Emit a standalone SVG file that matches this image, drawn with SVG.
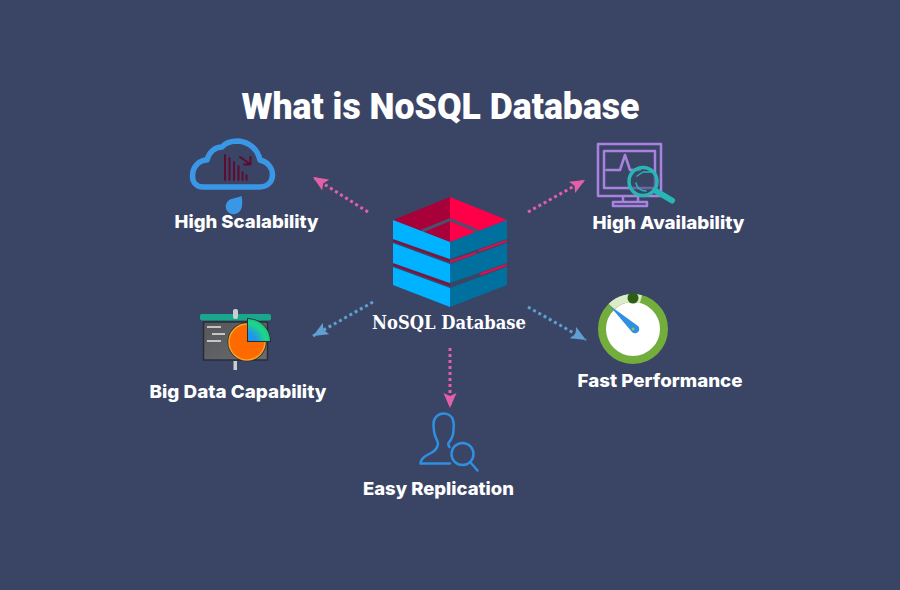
<svg xmlns="http://www.w3.org/2000/svg" width="900" height="590" viewBox="0 0 900 590">
<style>
.lbl{font-family:"Inter","Liberation Sans",sans-serif;font-weight:800;font-size:18px;fill:#fff;text-anchor:middle}
.pk{stroke:#e45fa8;stroke-width:3;stroke-dasharray:3 3;fill:none}
.bl{stroke:#5f9fd2;stroke-width:3;stroke-dasharray:3 3;fill:none}
.ol{fill:none;stroke-linecap:round;stroke-linejoin:round}
</style>
<defs>
<marker id="ap" markerUnits="userSpaceOnUse" markerWidth="16" markerHeight="14" refX="15" refY="7" orient="auto"><path d="M0 0.500L15 7L0 13.500L3 7Z" fill="#e45fa8"/></marker>
<marker id="ab" markerUnits="userSpaceOnUse" markerWidth="16" markerHeight="14" refX="15" refY="7" orient="auto"><path d="M0 0.500L15 7L0 13.500L3 7Z" fill="#5f9fd2"/></marker>
<radialGradient id="wedge" gradientUnits="userSpaceOnUse" cx="247" cy="342" r="24"><stop offset="0.350" stop-color="#1e95ee"/><stop offset="0.800" stop-color="#1fd68a"/><stop offset="1" stop-color="#14c878"/></radialGradient>
<linearGradient id="board" x1="0" y1="0" x2="1" y2="1"><stop offset="0" stop-color="#55565a"/><stop offset="1" stop-color="#6a6b6e"/></linearGradient>
</defs>
<rect width="900" height="590" fill="#3a4566"/>
<text id="title" x="440.500" y="119" font-family="Roboto,sans-serif" font-weight="900" font-size="37" fill="#fff" text-anchor="middle" textLength="398" lengthAdjust="spacingAndGlyphs">What is NoSQL Database</text>

<g id="connectors">
<path class="pk" d="M368 212L313 177" marker-end="url(#ap)"/>
<path class="pk" d="M528 212L585 180" marker-end="url(#ap)"/>
<path class="bl" d="M373 302L313 336" marker-end="url(#ab)"/>
<path class="bl" d="M528 307L586 340" marker-end="url(#ab)"/>
<path class="pk" d="M450 348V408" marker-end="url(#ap)"/>
</g>

<g id="center">
<path d="M393 220L450 197V242Z" fill="#a80038"/>
<path d="M507 220L450 197V242Z" fill="#ff0048"/>
<path d="M424 231L450 221V242Z" fill="#a80038"/>
<path d="M477 231L450 221V242Z" fill="#ff0048"/>
<path d="M422 231L450 219.500L478 231" fill="none" stroke="#4a5070" stroke-width="3"/>
<path d="M393 239.500L450 260V262L393 241.500Z" fill="#8c0a3c"/>
<path d="M450 260.500L476 252L477 254L450 263Z" fill="#d8104f"/>
<path d="M478 250L506 240L507 242L479 252Z" fill="#d8104f"/>
<path d="M393 263.500L450 284V286L393 265.500Z" fill="#8c0a3c"/>
<path d="M480 273L506 264L507 266L481 275.500Z" fill="#d8104f"/>
<path d="M393 220L450 242V259L393 239Z" fill="#00b2ff"/>
<path d="M507 220L450 242V259L507 239Z" fill="#00709f"/>
<path d="M393 243L450 264V283L393 263Z" fill="#00b2ff"/>
<path d="M507 243L450 264V283L507 263Z" fill="#00709f"/>
<path d="M393 267L450 288V307L393 285Z" fill="#00b2ff"/>
<path d="M507 267L450 288V307L507 285Z" fill="#00709f"/>
<text x="449" y="329" font-family="'DejaVu Serif',serif" font-weight="700" font-size="18" fill="#fff" text-anchor="middle" textLength="154" lengthAdjust="spacingAndGlyphs">NoSQL Database</text>
</g>

<g id="scalability">
<path class="ol" stroke="#3a97e6" stroke-width="5.500" d="M203 187C196 187 192.500 182 192.500 176C192.500 167 199 160 207 160C209 152 215 147 222 147C226 142 232 141 238 141C250 142 258 150 260 160C268 162 272.500 168 272.500 175C272.500 182 267 187 260 187Z"/>
<path d="M241.500 196C242.500 201 243 207 240 211C237 215 231 215 228 212C225 209 225 204 228 201C231 198 237 198 241.500 196Z" fill="#3a97e6"/>
<path class="ol" stroke="#5e0b30" stroke-width="2" d="M225 155V180M229.500 158V180M234 162V180M238.500 166V180M242.500 172V180M246.500 175V180M240 157L250 164M250.500 157V164.500H244"/>
<text class="lbl" x="246.500" y="228" textLength="144" lengthAdjust="spacingAndGlyphs">High Scalability</text>
</g>

<g id="availability">
<path class="ol" stroke="#a982e0" stroke-width="2.500" d="M598 144H661V196H598ZM604 151H655V188H604ZM606.500 170H620L625 155L630 170H640M623 197V202M638 197V202M613 202H647V206H613Z"/>
<circle cx="643" cy="181.500" r="14" fill="#3a4566" fill-opacity="0.500" stroke="#28b6b4" stroke-width="3.500"/>
<path class="ol" stroke="#28b6b4" stroke-width="1.500" d="M636 183C637 188 641 191 646 191M637 176L643 172H654"/>
<path class="ol" stroke="#28b6b4" stroke-width="6" d="M656 191L672 200.500"/>
<text class="lbl" x="668.500" y="229" textLength="152" lengthAdjust="spacingAndGlyphs">High Availability</text>
</g>

<g id="bigdata">
<rect x="203.500" y="322" width="64" height="38" fill="url(#board)" stroke="#2a2c35" stroke-width="1.500"/>
<rect x="200" y="314" width="71" height="6.500" rx="2" fill="#19a88d"/>
<rect x="233" y="309" width="5" height="10" rx="2" fill="#c8cfd0"/>
<rect x="233.500" y="361" width="3.500" height="9" fill="#c8cfd0"/>
<path d="M207 327H221M212 334H225M207 341H221" stroke="#e8e8e8" stroke-width="1.500" fill="none"/>
<circle cx="247" cy="342" r="19.500" fill="#2b2b38"/>
<circle cx="247" cy="342" r="18" fill="#ff6a00" stroke="#f5a623" stroke-width="1.500"/>
<path d="M247 318A24 24 0 0 1 271 342H247Z" fill="#2b2b38"/>
<path d="M248 319A22 22 0 0 1 270 341H248Z" fill="url(#wedge)"/>
<text class="lbl" x="238" y="398" textLength="177" lengthAdjust="spacingAndGlyphs">Big Data Capability</text>
</g>

<g id="performance">
<circle cx="633" cy="329" r="31" fill="#fff" stroke="#73ad3c" stroke-width="8"/>
<path d="M611.500 306.700A31 31 0 0 1 641 299" fill="none" stroke="#dcebc8" stroke-width="8"/>
<circle cx="633" cy="298" r="5.500" fill="#2c5f14"/>
<path d="M609 305L638 326A3.500 3.500 0 0 1 632 332Z" fill="#2f8fe0"/>
<circle cx="633" cy="329" r="1.500" fill="#8fc060"/>
<text class="lbl" x="660" y="387" textLength="165" lengthAdjust="spacingAndGlyphs">Fast Performance</text>
</g>

<g id="replication">
<path class="ol" stroke="#2f8fe0" stroke-width="2.500" d="M449.500 447C448 445 448 444 448.500 443C452 439 453.500 434 453.500 430C454 426 454 423 453 420C452 416 448 413.500 443.500 413.500C438 413.500 433.500 418 433.500 424C433.500 429 434 434 436 438C437 440 438 442 438 444C437.500 448 435 451 431 453C426 455.500 421 458 420.500 463.500H450"/>
<circle cx="462.500" cy="454" r="11" fill="none" stroke="#2f8fe0" stroke-width="2.500"/>
<path class="ol" stroke="#2f8fe0" stroke-width="2.500" d="M471 463L477.500 470.500"/>
<text class="lbl" x="438.500" y="495" textLength="151" lengthAdjust="spacingAndGlyphs">Easy Replication</text>
</g>
</svg>
